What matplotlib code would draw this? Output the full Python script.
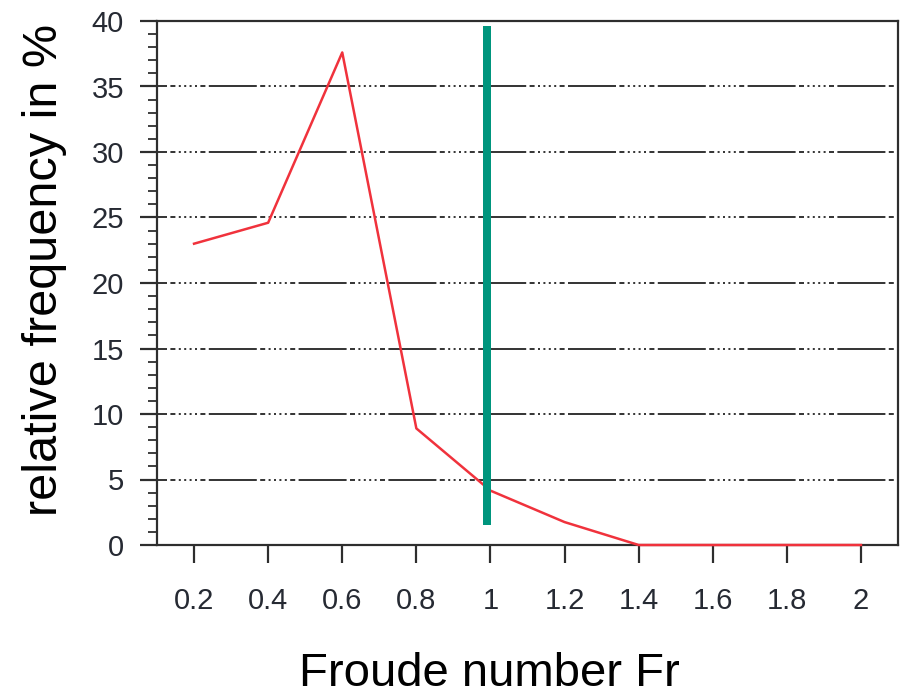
import numpy as np
import matplotlib.pyplot as plt

plt.rcParams['font.family'] = ['Liberation Sans', 'DejaVu Sans']
plt.rcParams['lines.scale_dashes'] = False

# relative frequency of the Froude number classes
froude = [0.2, 0.4, 0.6, 0.8, 1.0, 1.2, 1.4, 1.6, 1.8, 2.0]
freq = [23.0, 24.6, 37.6, 8.9, 4.15, 1.75, 0.0, 0.0, 0.0, 0.0]
xtick_labels = ['0.2', '0.4', '0.6', '0.8', '1', '1.2', '1.4', '1.6', '1.8', '2']
yticks = [0, 5, 10, 15, 20, 25, 30, 35, 40]

# critical flow marker Fr = 1
crit_x = 0.99
crit_y = [1.5, 39.6]

dark = '#2e2e2e'
px = 72 / 100  # pixel -> point

fig = plt.figure(figsize=(9.01, 7.0), dpi=100)
ax = fig.add_axes([157 / 901, 1 - 545 / 700, (898 - 157) / 901, (545 - 21) / 700])

# long dash followed by dash-dot-dot pattern
pat = [48, 3.4, 5, 3.4, 2, 3.4, 2, 3.4, 2, 3.4, 2, 3.4, 5, 3.4]
pat = [p * px for p in pat]
ax.yaxis.grid(True, which='major', color=dark, lw=1.9 * px,
              linestyle=(38 * px, pat), zorder=1)
ax.set_axisbelow(True)

ax.plot(froude, freq, color='#f0323c', lw=2.5 * px, zorder=3, clip_on=False)
ax.plot([crit_x, crit_x], crit_y, color='#00957d', lw=8 * px,
        solid_capstyle='butt', zorder=4)

ax.set_xlim(0.1, 2.1)
ax.set_ylim(0, 40)
ax.set_xticks(froude)
ax.set_xticklabels(xtick_labels)
ax.set_yticks(yticks)
ax.set_yticks(np.arange(0, 40, 1), minor=True)

for s in ax.spines.values():
    s.set_color(dark)
    s.set_linewidth(2.2 * px)

ax.tick_params(axis='x', which='major', direction='out', length=18 * px,
               width=2.2 * px, color=dark, pad=24 * px, labelsize=21,
               labelcolor='#262a33')
ax.tick_params(axis='y', which='major', direction='out', length=17 * px,
               width=2.2 * px, color=dark, pad=16 * px, labelsize=21,
               labelcolor='#262a33')
ax.tick_params(axis='y', which='minor', direction='out', length=9 * px,
               width=1.8 * px, color=dark)

fig.text(45 / 901, 1 - 270 / 700, 'relative frequency in %', rotation=90,
         ha='center', va='center', fontsize=35, color='black')
fig.text(489 / 901, 1 - 686 / 700, 'Froude number Fr', ha='center',
         va='baseline', fontsize=34, color='black')

fig.savefig('out.png', dpi=100)
